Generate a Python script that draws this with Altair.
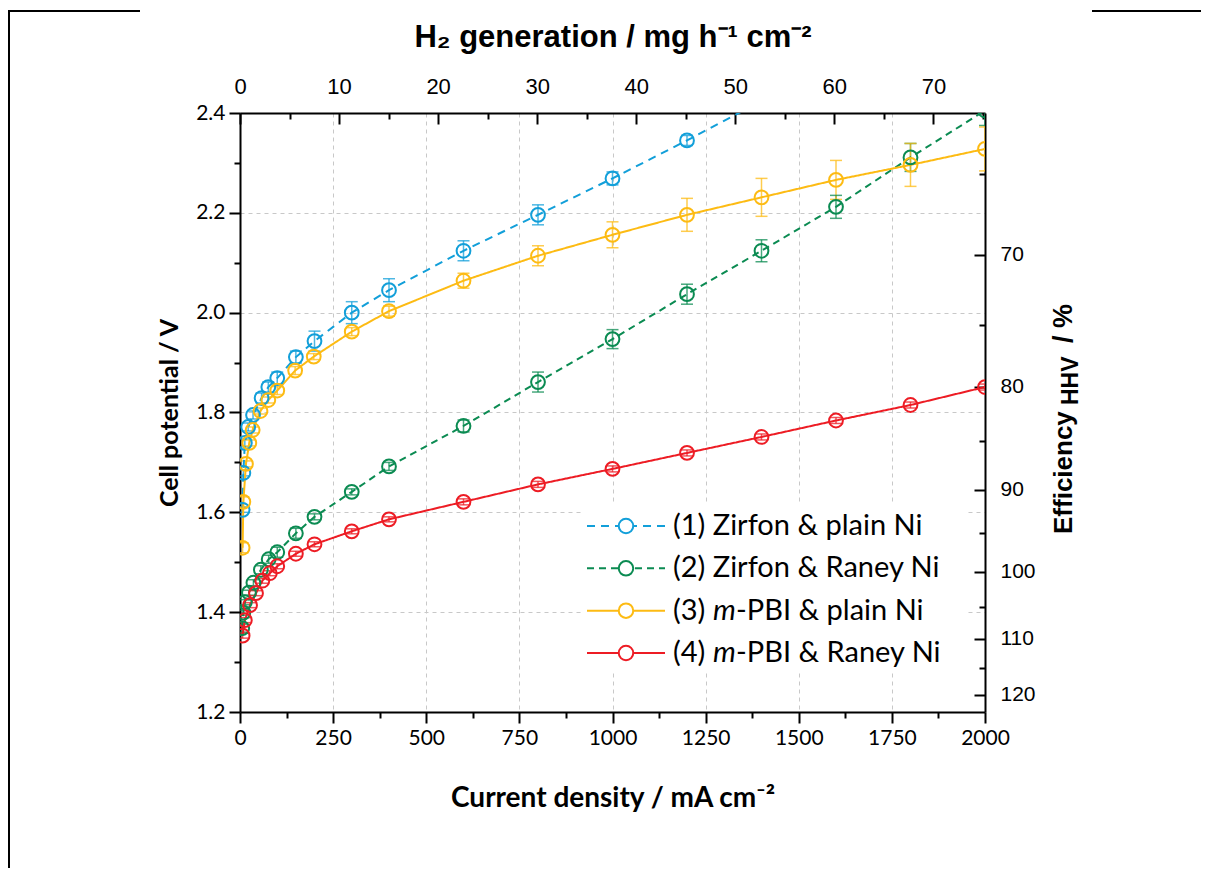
import altair as alt
import pandas as pd

W, H = 745, 599

names = ["(1) Zirfon & plain Ni", "(2) Zirfon & Raney Ni",
         "(3) m-PBI & plain Ni", "(4) m-PBI & Raney Ni"]
colors = ["#129fd9", "#0b8b52", "#fdbb13", "#ed1c24"]
dash_patterns = [[8, 6], [7, 5], [1, 0], [1, 0]]

# (1) Zirfon & plain Ni
j1 = [7, 9, 13, 22, 35, 58, 76, 100, 150, 200, 300, 400, 600, 800, 1000, 1200, 1400]
v1 = [1.605, 1.679, 1.739, 1.771, 1.795, 1.829, 1.851, 1.869, 1.911, 1.943, 2.000,
      2.045, 2.124, 2.196, 2.269, 2.345, 2.424]
e1 = [0.005, 0.006, 0.008, 0.008, 0.008, 0.010, 0.010, 0.012, 0.012, 0.020, 0.022,
      0.023, 0.020, 0.020, 0.013, 0.010, 0.010]
# (2) Zirfon & Raney Ni
j2 = [6, 9, 13, 24, 36, 56, 77, 100, 150, 200, 300, 400, 600, 800, 1000, 1200, 1400,
      1600, 1800, 2000]
v2 = [1.368, 1.399, 1.420, 1.439, 1.459, 1.485, 1.506, 1.520, 1.558, 1.591, 1.641,
      1.692, 1.773, 1.861, 1.947, 2.037, 2.124, 2.212, 2.311, 2.405]
e2 = [0.008, 0.005, 0.005, 0.005, 0.006, 0.008, 0.008, 0.010, 0.010, 0.006, 0.006,
      0.008, 0.012, 0.020, 0.019, 0.020, 0.022, 0.023, 0.028, 0.030]
# (3) m-PBI & plain Ni
j3 = [7, 9, 16, 25, 34, 55, 76, 100, 148, 198, 300, 400, 600, 800, 1000, 1200, 1400,
      1600, 1800, 2000]
v3 = [1.529, 1.621, 1.697, 1.739, 1.765, 1.803, 1.825, 1.844, 1.884, 1.912, 1.962,
      2.003, 2.064, 2.114, 2.156, 2.196, 2.231, 2.266, 2.296, 2.328]
e3 = [0.010, 0.010, 0.006, 0.006, 0.006, 0.006, 0.006, 0.008, 0.008, 0.006, 0.008,
      0.010, 0.015, 0.020, 0.026, 0.033, 0.038, 0.039, 0.043, 0.044]
# (4) m-PBI & Raney Ni
j4 = [7, 13, 27, 43, 60, 80, 100, 150, 200, 300, 400, 600, 800, 1000, 1200, 1400,
      1600, 1800, 2000]
v4 = [1.353, 1.384, 1.414, 1.438, 1.463, 1.478, 1.492, 1.517, 1.536, 1.562, 1.586,
      1.621, 1.656, 1.687, 1.719, 1.751, 1.784, 1.815, 1.851]
e4 = [0.005, 0.005, 0.005, 0.005, 0.005, 0.005, 0.005, 0.005, 0.005, 0.005, 0.005,
      0.006, 0.006, 0.006, 0.006, 0.006, 0.006, 0.006, 0.006]

x_ticks = [0, 125, 250, 375, 500, 625, 750, 875, 1000, 1125, 1250, 1375, 1500,
           1625, 1750, 1875, 2000]
y_ticks = [1.2, 1.3, 1.4, 1.5, 1.6, 1.7, 1.8, 1.9, 2.0, 2.1, 2.2, 2.3, 2.4]
h2_ticks = [0, 5, 10, 15, 20, 25, 30, 35, 40, 45, 50, 55, 60, 65, 70, 75]
eff_ticks = [65, 70, 75, 80, 85, 90, 95, 100, 105, 110, 115, 120]

MG_PER_MA = 0.037605   # mg H2 per hour per mA
HHV_V = 148.1          # 100 * thermoneutral voltage

rows = []
for name, J, V, E in zip(names, [j1, j2, j3, j4], [v1, v2, v3, v4], [e1, e2, e3, e4]):
    for a, b, c in zip(J, V, E):
        rows.append({"series": name, "j": a, "v": b, "lo": b - c, "hi": b + c})
df = pd.DataFrame(rows)

leg_rows = []
for name in names:
    if "m-PBI" in name:
        pre, rest = name.split("m-PBI")
        leg_rows.append({"series": name, "t1": pre, "t2": "m", "t3": "-PBI" + rest})
    else:
        leg_rows.append({"series": name, "t1": name, "t2": "", "t3": ""})
leg = pd.DataFrame(leg_rows)
one = pd.DataFrame({"k": [0]})

xs = alt.Scale(domain=[0, 2000], nice=False, zero=False)
ys = alt.Scale(domain=[1.2, 2.4], nice=False, zero=False)
cs = alt.Scale(domain=names, range=colors)
ds = alt.Scale(domain=names, range=dash_patterns)
COLOR = alt.Color("series:N", scale=cs, legend=None)

NARROW = "Liberation Sans Narrow, Liberation Sans"

ax_bottom = alt.Axis(
    orient="bottom", values=x_ticks,
    labelExpr="datum.value % 250 == 0 ? format(datum.value, 'd') : ''",
    tickSize={"condition": {"test": "datum.value % 250 == 0", "value": 11}, "value": 6},
    tickWidth=2, tickColor="black", domainColor="black", domainWidth=2,
    grid=True, gridDash=[4, 4], gridColor="#c8c8c8", gridWidth=1,
    gridOpacity={"condition": {"test": "datum.value % 250 == 0 && datum.value > 0 && datum.value < 2000",
                               "value": 1}, "value": 0},
    labelFont="Lato", labelFontSize=21, labelColor="black", labelPadding=4,
    labelFlush=False, labelOverlap=False,
    title="Current density / mA cm\u207b\u00b2", titleFont="Lato", titleFontSize=28,
    titleFontWeight="bold", titleColor="black", titlePadding=36)

ax_left = alt.Axis(
    orient="left", values=y_ticks,
    labelExpr="round(datum.value * 10) % 2 == 0 ? format(datum.value, '.1f') : ''",
    tickSize={"condition": {"test": "round(datum.value * 10) % 2 == 0", "value": 11}, "value": 6},
    tickWidth=2, tickColor="black", domainColor="black", domainWidth=2,
    grid=True, gridDash=[4, 4], gridColor="#c8c8c8", gridWidth=1,
    gridOpacity={"condition": {"test": "round(datum.value * 10) % 2 == 0 && datum.value > 1.25 && datum.value < 2.35",
                               "value": 1}, "value": 0},
    labelFont="Lato", labelFontSize=21, labelColor="black", labelPadding=4,
    labelFlush=False, labelOverlap=False,
    title="Cell potential / V", titleFont="Lato", titleFontSize=25,
    titleFontWeight="bold", titleColor="black", titlePadding=13)

top_vals = [m / MG_PER_MA for m in h2_ticks]
ax_top_labels = alt.Axis(
    orient="top", values=top_vals,
    labelExpr="round(datum.value * 0.037605) % 10 == 0 ? format(round(datum.value * 0.037605), 'd') : ''",
    ticks=False, tickSize=0, domain=False, grid=False,
    labelFont=NARROW, labelFontSize=22, labelColor="black", labelPadding=15,
    labelFlush=False, labelOverlap=False,
    title="H\u2082 generation / mg h\u207b\u00b9 cm\u207b\u00b2", titleFont=NARROW, titleFontSize=31,
    titleFontWeight="bold", titleColor="black", titlePadding=22)
ax_top_ticks = alt.Axis(
    orient="bottom", offset=-H, values=top_vals, labels=False, grid=False, title=None,
    tickSize={"condition": {"test": "round(datum.value * 0.037605) % 10 == 0", "value": 11}, "value": 6},
    tickWidth=2, tickColor="black", domainColor="black", domainWidth=2)

eff_vals = [HHV_V / e for e in eff_ticks]
ax_right_labels = alt.Axis(
    orient="right", values=eff_vals,
    labelExpr="round(148.1 / datum.value) % 10 == 0 ? format(round(148.1 / datum.value), 'd') : ''",
    ticks=False, tickSize=0, domain=False, grid=False,
    labelFont="Liberation Sans", labelFontSize=21, labelColor="black", labelPadding=15,
    labelOverlap=False, labelFlush=False, title=None)
ax_right_ticks = alt.Axis(
    orient="left", offset=-W, values=eff_vals, labels=False, grid=False, title=None,
    tickSize={"condition": {"test": "round(148.1 / datum.value) % 10 == 0", "value": 11}, "value": 6},
    tickWidth=2, tickColor="black", domainColor="black", domainWidth=2)

base = alt.Chart(df)

errbar = base.mark_rule(clip=True, strokeWidth=1.5, opacity=0.75).encode(
    x=alt.X("j:Q", scale=xs, axis=ax_bottom),
    y=alt.Y("lo:Q", scale=ys, axis=ax_left),
    y2="hi:Q",
    color=COLOR)
cap_lo = base.mark_tick(clip=True, orient="horizontal", size=12, thickness=1.5, opacity=0.75).encode(
    x=alt.X("j:Q", scale=xs, axis=ax_top_labels),
    y=alt.Y("lo:Q", scale=ys, axis=ax_right_labels),
    color=COLOR)
cap_hi = base.mark_tick(clip=True, orient="horizontal", size=12, thickness=1.5, opacity=0.75).encode(
    x=alt.X("j:Q", scale=xs, axis=ax_top_ticks),
    y=alt.Y("hi:Q", scale=ys, axis=ax_right_ticks),
    color=COLOR)
lines = base.mark_line(clip=True, strokeWidth=2).encode(
    x=alt.X("j:Q", scale=xs, axis=None),
    y=alt.Y("v:Q", scale=ys, axis=None),
    color=COLOR,
    strokeDash=alt.StrokeDash("series:N", scale=ds, legend=None),
    order="j:Q")
points = base.mark_point(clip=True, shape="circle", filled=False, size=190, strokeWidth=2,
                         opacity=1).encode(
    x=alt.X("j:Q", scale=xs, axis=None),
    y=alt.Y("v:Q", scale=ys, axis=None),
    color=COLOR)

# legend
legend_bg = alt.Chart(one).mark_rect(fill="white").encode(
    x=alt.value(343), x2=alt.value(725), y=alt.value(390), y2=alt.value(560))
LY = alt.Y("series:N", scale=alt.Scale(type="point", domain=names, range=[413, 540], padding=0),
           axis=None)
legc = alt.Chart(leg)
leg_line = legc.mark_rule(strokeWidth=2).encode(
    x=alt.value(347), x2=alt.value(425), y=LY, color=COLOR,
    strokeDash=alt.StrokeDash("series:N", scale=ds, legend=None))
leg_pt = legc.mark_point(shape="circle", filled=True, fill="white", size=210, strokeWidth=2,
                         opacity=1).encode(
    x=alt.value(386), y=LY, stroke=alt.Stroke("series:N", scale=cs, legend=None))
leg_t1 = legc.mark_text(align="left", baseline="middle", font="Lato", fontSize=29,
                        color="black").encode(x=alt.value(433), y=LY, text="t1:N")
leg_t2 = legc.mark_text(align="left", baseline="middle", font="Lato", fontSize=29,
                        fontStyle="italic", color="black").encode(x=alt.value(473), y=LY, text="t2:N")
leg_t3 = legc.mark_text(align="left", baseline="middle", font="Lato", fontSize=29,
                        color="black").encode(x=alt.value(496), y=LY, text="t3:N")

# right axis title with subscript
oc = alt.Chart(one)
rt1 = oc.mark_text(text="Efficiency", angle=270, align="left", baseline="alphabetic",
                   font="Liberation Sans", fontSize=26, fontWeight="bold", color="black").encode(
    x=alt.value(832), y=alt.value(421))
rt2 = oc.mark_text(text="HHV", angle=270, align="left", baseline="alphabetic",
                   font="Liberation Sans", fontSize=23, fontWeight="bold", color="black").encode(
    x=alt.value(838), y=alt.value(292))
rt3 = oc.mark_text(text="/ %", angle=270, align="left", baseline="alphabetic",
                   font="Liberation Sans", fontSize=27, fontWeight="bold", color="black").encode(
    x=alt.value(832), y=alt.value(230))

# outer figure border fragments
b_left = oc.mark_rule(color="black", strokeWidth=2).encode(
    x=alt.value(-231), y=alt.value(-102), y2=alt.value(760))
b_top1 = oc.mark_rule(color="black", strokeWidth=2).encode(
    x=alt.value(-232), x2=alt.value(-100), y=alt.value(-102))
b_top2 = oc.mark_rule(color="black", strokeWidth=2).encode(
    x=alt.value(852), x2=alt.value(970), y=alt.value(-102))

chart = alt.layer(
    legend_bg, errbar, cap_lo, cap_hi, lines, points,
    leg_line, leg_pt, leg_t1, leg_t2, leg_t3, rt1, rt2, rt3, b_left, b_top1, b_top2
).resolve_scale(y="independent").resolve_axis(x="independent", y="independent").properties(
    width=W, height=H,
    padding={"left": 232, "top": 105, "right": 216, "bottom": 156},
    autosize=alt.AutoSizeParams(type="none"),
    background="white",
).configure_view(stroke=None)

chart.save("out.html", embed_options={"renderer": "svg", "actions": False})
